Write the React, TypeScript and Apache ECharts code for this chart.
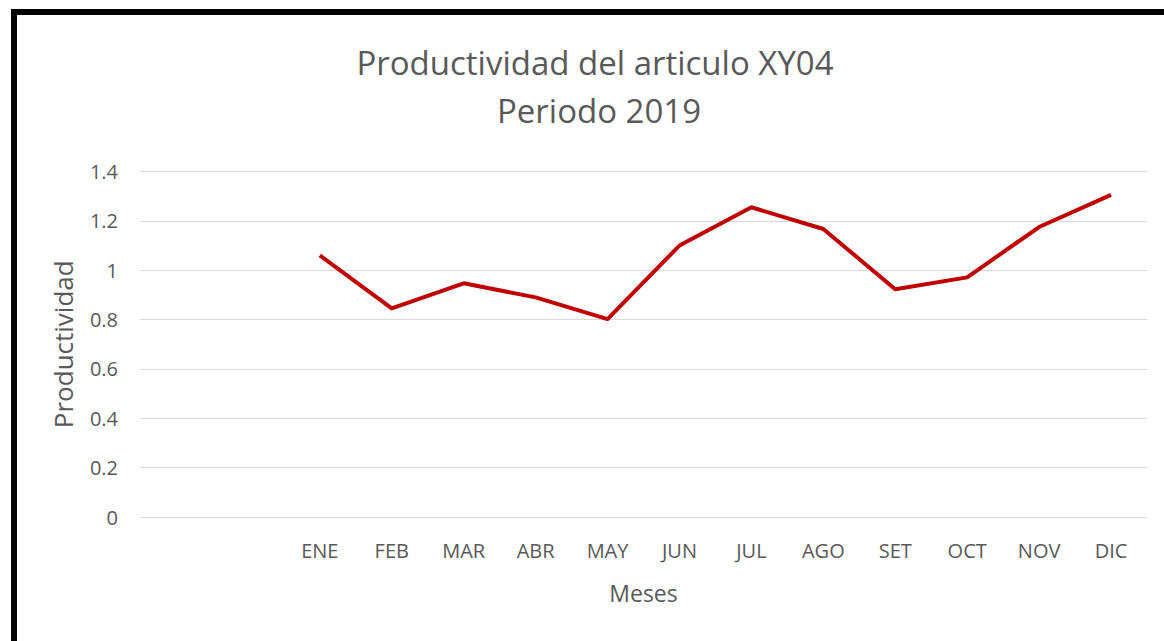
import React, { useEffect, useRef } from "react";
import * as echarts from "echarts";

const categories = ["", "", "ENE", "FEB", "MAR", "ABR", "MAY", "JUN", "JUL", "AGO", "SET", "OCT", "NOV", "DIC"];
const productividad = [null, null, 1.06, 0.845, 0.947, 0.89, 0.802, 1.1, 1.255, 1.167, 0.923, 0.971, 1.175, 1.305];
const titleLines = ["Productividad del articulo XY04", "Periodo 2019"];

const FONT = "'Open Sans', Lato, sans-serif";
const GREY = "#595959";

export default function App() {
  const ref = useRef<HTMLDivElement>(null);
  useEffect(() => {
    if (!ref.current) return;
    const chart = echarts.init(ref.current, null, { renderer: "svg" });
    chart.setOption({
      animation: false,
      backgroundColor: "#fff",
      graphic: [
        { type: "rect", shape: { x: 11, y: 9, width: 1153, height: 6 }, style: { fill: "#000" } },
        { type: "rect", shape: { x: 11, y: 9, width: 6, height: 632 }, style: { fill: "#000" } },
        {
          type: "text", x: 595, y: 62,
          style: { text: titleLines[0], fill: GREY, font: `33px ${FONT}`, textAlign: "center", textVerticalAlign: "middle" },
        },
        {
          type: "text", x: 599, y: 110,
          style: { text: titleLines[1], fill: GREY, font: `33px ${FONT}`, textAlign: "center", textVerticalAlign: "middle" },
        },
      ],
      grid: { left: 140, right: 17, top: 171.5, bottom: 124, containLabel: false },
      xAxis: {
        type: "category",
        data: categories,
        boundaryGap: true,
        axisLine: { show: false },
        axisTick: { show: false },
        axisLabel: { color: GREY, fontSize: 20, fontFamily: FONT, margin: 23, interval: 0 },
        name: "Meses",
        nameLocation: "middle",
        nameGap: 64,
        nameTextStyle: { color: GREY, fontSize: 23, fontFamily: FONT },
      },
      yAxis: {
        type: "value",
        min: 0,
        max: 1.4,
        interval: 0.2,
        axisLine: { show: false },
        axisTick: { show: false },
        axisLabel: { color: GREY, fontSize: 20, fontFamily: FONT, margin: 22, formatter: (v: number) => String(Math.round(v * 10) / 10) },
        splitLine: { lineStyle: { color: "#d9d9d9", width: 1 } },
        name: "Productividad",
        nameLocation: "middle",
        nameGap: 64,
        nameRotate: 90,
        nameTextStyle: { color: GREY, fontSize: 26, fontFamily: FONT },
      },
      series: [
        {
          type: "line",
          data: productividad,
          showSymbol: false,
          symbol: "none",
          lineStyle: { color: "#C00000", width: 4, join: "round" },
          connectNulls: false,
        },
      ],
    });
    return () => chart.dispose();
  }, []);
  return <div ref={ref} style={{ position: "absolute", left: 0, top: 0, width: 1164, height: 641 }} />;
}
